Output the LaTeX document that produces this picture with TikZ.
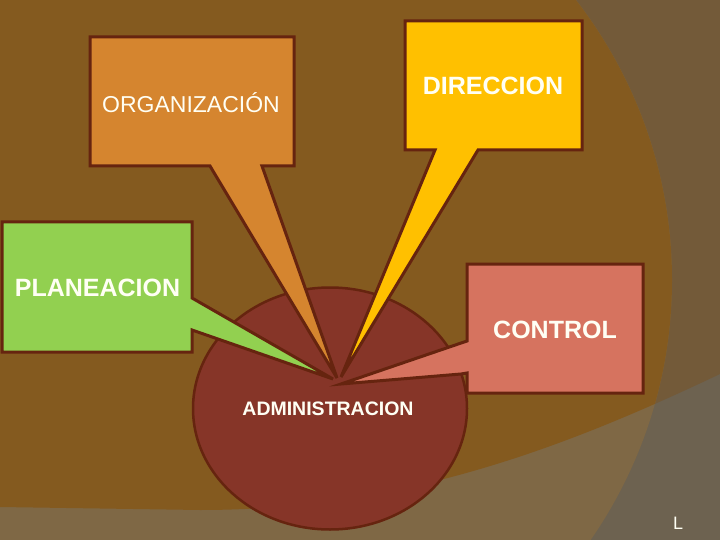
\documentclass[tikz,border=0pt]{standalone}
\usepackage{fontspec}
\setmainfont{Liberation Sans}
\definecolor{bgmain}{HTML}{845A1F}
\definecolor{bggray}{HTML}{735A39}
\definecolor{bgband}{HTML}{7F6845}
\definecolor{bgdark}{HTML}{6D6250}
\definecolor{outl}{HTML}{66240F}
\definecolor{orgc}{HTML}{D5852F}
\definecolor{dirc}{HTML}{FFC000}
\definecolor{planc}{HTML}{92D050}
\definecolor{ctrlc}{HTML}{D6735F}
\definecolor{admc}{HTML}{863528}
\definecolor{txtc}{HTML}{FFFFF4}
\tikzset{
  callout/.style={draw=outl, line width=3pt, line join=miter},
  lbl/.style={text=txtc, inner sep=0pt, font=\bfseries\fontsize{25}{25}\selectfont},
}
\begin{document}
\begin{tikzpicture}[x=1pt,y=-1pt]
\useasboundingbox (0,0) rectangle (720,540);
\begin{scope}
  \clip (0,0) rectangle (720,540);
  \fill[bgdark] (0,0) rectangle (720,540);
  \fill[bggray] (0,0) -- (0,507) -- (200,510) .. controls (400,510) and (560,450) .. (720,374) -- (720,0) -- cycle;
  \begin{scope}
    \clip (200,280) ellipse [x radius=472pt, y radius=463pt];
    \fill[bgband] (0,0) rectangle (720,540);
    \fill[bgmain] (0,0) -- (0,507) -- (200,510) .. controls (400,510) and (560,450) .. (720,374) -- (720,0) -- cycle;
  \end{scope}
\end{scope}

% central ellipse
\fill[admc, draw=outl, line width=2.5pt] (330,408.5) ellipse [x radius=137pt, y radius=121pt];
\node[lbl, font=\bfseries\fontsize{19.5}{19.5}\selectfont] (adm) at (328,409) {ADMINISTRACION};

% tips
\coordinate (tipo) at (337,378);
\coordinate (tipd) at (341,377);
\coordinate (tipp) at (333,379);
\coordinate (tipc) at (341,384);

% ORGANIZACION callout
\filldraw[callout, fill=orgc] (90,37) -- (294,37) -- (294,166) -- (262,166) -- (tipo) -- (210,166) -- (90,166) -- cycle;
\node[lbl, font=\fontsize{23}{23}\selectfont] (org) at (191,103) {ORGANIZACIÓN};

% DIRECCION callout
\filldraw[callout, fill=dirc] (405,21) -- (582,21) -- (582,150) -- (478,150) -- (tipd) -- (435,150) -- (405,150) -- cycle;
\node[lbl] (dir) at (493,86) {DIRECCION};

% PLANEACION callout
\filldraw[callout, fill=planc] (2,222) -- (192,222) -- (192,298) -- (tipp) -- (192,330) -- (192,352) -- (2,352) -- cycle;
\node[lbl] (plan) at (97.5,288) {PLANEACION};

% CONTROL callout
\filldraw[callout, fill=ctrlc] (467,264) -- (643,264) -- (643,393) -- (467,393) -- (467,373) -- (461,374) -- (tipc) -- (467,341) -- cycle;
\node[lbl] (ctrl) at (555,330) {CONTROL};

\node[text=txtc, inner sep=0pt, font=\fontsize{18}{18}\selectfont] (ll) at (678,523) {L};
\end{tikzpicture}
\end{document}
